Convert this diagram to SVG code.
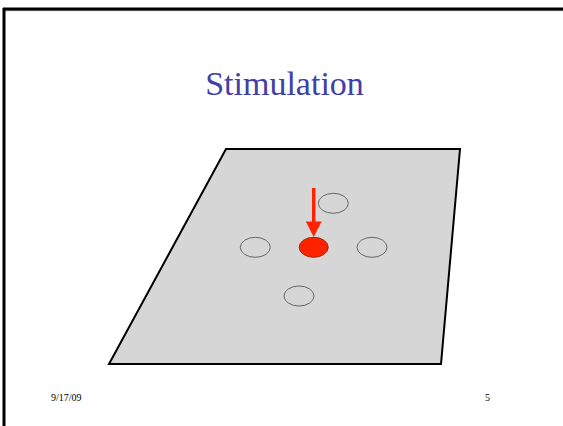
<svg xmlns="http://www.w3.org/2000/svg" width="563" height="426" viewBox="0 0 563 426">
<style>
.cell{fill:none;stroke:#666;stroke-width:1}
.foot{font-family:'Liberation Serif',serif;font-size:10px;fill:#000}
</style>
<rect width="563" height="426" fill="#fff"/>
<g id="frame">
<line x1="3" y1="10.5" x2="563" y2="10.5" stroke="#aaa" stroke-width="1.5"/>
<line x1="3" y1="9" x2="563" y2="9" stroke="#000" stroke-width="3"/>
<line x1="4" y1="8" x2="4" y2="426" stroke="#000" stroke-width="3"/>
</g>
<text id="title" x="284.5" y="95" text-anchor="middle" font-family="Liberation Serif,serif" font-size="34" fill="#4040A8">Stimulation</text>
<g id="sheet">
<polygon points="226,149 460,149 441,364 109,364" fill="#d6d6d6" stroke="#000" stroke-width="2"/>
</g>
<g id="cells">
<ellipse id="c-top" class="cell" cx="333.3" cy="203.3" rx="15" ry="10"/>
<ellipse id="c-left" class="cell" cx="255.3" cy="247.3" rx="15" ry="10"/>
<ellipse id="c-right" class="cell" cx="372" cy="247.3" rx="15" ry="10"/>
<ellipse id="c-bottom" class="cell" cx="299" cy="296" rx="15" ry="10"/>
<ellipse id="c-center" cx="313.7" cy="247.3" rx="14.5" ry="10" fill="#ff2200" stroke="#aa2200" stroke-width="1"/>
</g>
<g id="connectors">
<line x1="313.7" y1="188" x2="313.7" y2="223" stroke="#ff2200" stroke-width="3.5"/>
<polygon points="305.8,221.5 321.6,221.5 313.7,237" fill="#ff2200"/>
</g>
<text class="foot" font-family="Liberation Serif,serif" x="51" y="401">9/17/09</text>
<text class="foot" font-family="Liberation Serif,serif" x="485" y="401">5</text>
</svg>
